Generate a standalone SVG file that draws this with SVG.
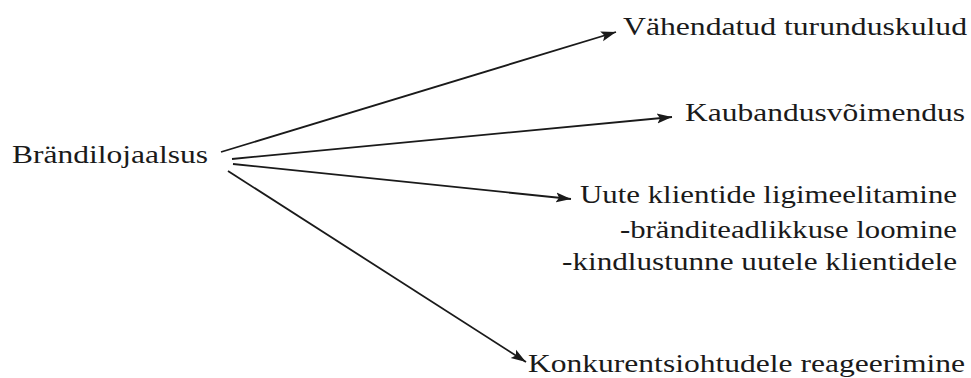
<svg xmlns="http://www.w3.org/2000/svg" width="971" height="378" viewBox="0 0 971 378">
<style>
.t{font-family:"Liberation Serif","Times New Roman",serif;font-size:25px;fill:#1a1a1a}
.c{stroke:#1a1a1a;stroke-width:1.8;fill:none}
</style>
<defs>
<marker id="ah" markerUnits="userSpaceOnUse" markerWidth="16" markerHeight="12" refX="15" refY="5" orient="auto" viewBox="0 0 16 10">
<path d="M0,0 L15,5 L0,10 L3,5 Z" fill="#1a1a1a"/>
</marker>
</defs>
<rect width="971" height="378" fill="#fff"/>
<g id="connectors">
<path class="c" d="M221,152 L616,32" marker-end="url(#ah)"/>
<path class="c" d="M232,159 L672,117" marker-end="url(#ah)"/>
<path class="c" d="M233,164 L571,199" marker-end="url(#ah)"/>
<path class="c" d="M228,171 L526,362" marker-end="url(#ah)"/>
</g>
<g id="n-brand"><text class="t" x="12" y="163" textLength="196" lengthAdjust="spacingAndGlyphs">Brändilojaalsus</text></g>
<g id="n-turundus"><text class="t" x="623" y="35" textLength="344" lengthAdjust="spacingAndGlyphs">Vähendatud turunduskulud</text></g>
<g id="n-kaubandus"><text class="t" x="685" y="121" textLength="280" lengthAdjust="spacingAndGlyphs">Kaubandusvõimendus</text></g>
<g id="n-kliendid">
<text class="t" x="580" y="203" textLength="377" lengthAdjust="spacingAndGlyphs">Uute klientide ligimeelitamine</text>
<text class="t" x="620" y="238" textLength="337" lengthAdjust="spacingAndGlyphs">-bränditeadlikkuse loomine</text>
<text class="t" x="562" y="270" textLength="395" lengthAdjust="spacingAndGlyphs">-kindlustunne uutele klientidele</text>
</g>
<g id="n-konkurents"><text class="t" x="528" y="372" textLength="437" lengthAdjust="spacingAndGlyphs">Konkurentsiohtudele reageerimine</text></g>
</svg>
